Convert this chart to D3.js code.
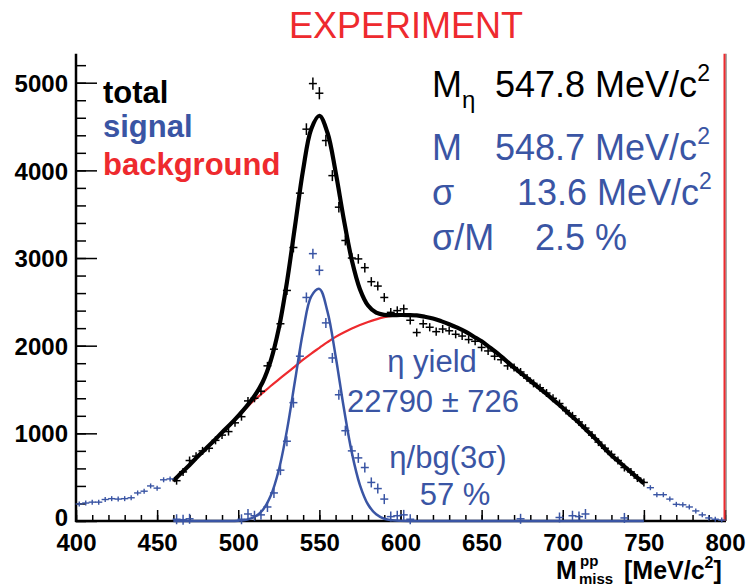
<!DOCTYPE html>
<html><head><meta charset="utf-8">
<script src="https://cdn.jsdelivr.net/npm/d3@7"></script>
<style>
html,body{margin:0;padding:0;background:#fff;}
svg{display:block;}
text{font-family:"Liberation Sans",Arial,Helvetica,sans-serif;}
</style></head>
<body><svg id="c" width="750" height="588"></svg>
<script>
// ---- data ----
const totalBins = [462,466,470,474,478,482,486,490,494,498,502,506,510,514,518,522,526,530,534,538,542,546,550,554,558,562,566,570,574,578,582,586,590,594,598,602,606,610,614,618,622,626,630,634,638,642,646,650,654,658,662,666,670,674,678,682,686,690,694,698,702,706,710,714,718,722,726,730,734,738,742,746,750];
const totalCounts = [460,560,690,740,800,830,920,980,1020,1120,1190,1370,1400,1480,1770,1960,2250,2630,3120,3740,4470,4990,4880,4340,3940,3580,3200,3000,2990,2890,2730,2680,2550,2380,2400,2420,2290,2150,2250,2210,2160,2190,2170,2130,2110,2070,2050,1980,1940,1880,1840,1770,1750,1700,1630,1570,1520,1460,1400,1340,1260,1200,1130,1060,980,900,830,760,690,610,560,490,440];
const leftBins = [402,406,410,414,418,422,426,430,434,438,442,446,450,454,458];
const leftCounts = [194,205,215,215,245,255,250,255,265,320,340,400,375,470,480];
const rightBins = [754,758,762,766,770,774,778,782,786,790,794,798];
const rightCounts = [380,300,300,250,190,185,160,115,70,35,20,10];
const signalBins = [462,466,470,502,506,510,514,518,522,526,530,534,538,542,546,550,554,558,562,566,570,574,578,582,586,590,594,598,602,606,674,698,706,710,714,738];
const signalCounts = [20,15,25,20,80,60,70,160,320,580,910,1350,1880,2550,3050,2860,2260,1860,1440,1030,800,720,610,440,370,250,50,60,70,20,25,40,60,50,80,35];
// fit curves
const fitX = [460,465,470,475,480,485,490,495,500,505,510,515,520,525,530,535,540,545,550,555,560,565,570,575,580,585,590,595,600,605,610,615,620,625,630,635,640,645,650,655,660,665,670,675,680,685,690,695,700,705,710,715,720,725,730,735,740,745,750];
const bgFit = [457,550,640,735,825,915,1010,1100,1195,1290,1380,1460,1540,1615,1690,1765,1840,1910,1975,2040,2100,2150,2195,2235,2270,2300,2325,2340,2348,2349,2345,2330,2310,2280,2245,2205,2160,2105,2050,1980,1910,1830,1750,1675,1600,1525,1450,1370,1290,1205,1120,1030,940,845,750,670,590,510,430];
const sigFit = [0,0,0,0,0,0,0,0,4,15,46,123,287,582,1034,1602,2168,2563,2648,2389,1883,1297,780,410,188,76,26,8,2,0,0,0,0,0,0,0,0,0,0,0,0,0,0,0,0,0,0,0,0,0,0,0,0,0,0,0,0,0,0];
const totalFit = [457,550,640,735,825,915,1010,1100,1199,1305,1426,1583,1827,2197,2724,3367,4008,4473,4623,4429,3983,3447,2975,2645,2458,2376,2351,2348,2350,2349,2345,2330,2310,2280,2245,2205,2160,2105,2050,1980,1910,1830,1750,1675,1600,1525,1450,1370,1290,1205,1120,1030,940,845,750,670,590,510,430];
const xMajor = [400,450,500,550,600,650,700,750,800];
const yMajor = [0,1000,2000,3000,4000,5000];

const BLUE = "#3a55a4", RED = "#ee2a2e";
const svg = d3.select("#c");
const x = d3.scaleLinear().domain([400,800]).range([76,725]);
const y = d3.scaleLinear().domain([0,5000]).range([521,82.7]);
const yTop = 5330;

// axes
const gy = svg.append("g").attr("transform","translate(76,0)");
gy.call(d3.axisLeft(y).tickValues(d3.range(0,5400,200)).tickSizeInner(-10).tickSizeOuter(0).tickFormat(""));
gy.append("g").call(d3.axisLeft(y).tickValues(yMajor).tickSizeInner(-21).tickSizeOuter(0).tickPadding(8).tickFormat(d3.format("d")));
gy.selectAll(".domain").remove();
gy.selectAll("line").attr("stroke","#000").attr("stroke-width",1.5);
gy.selectAll("text").attr("font-size",24).attr("font-weight","bold").attr("fill","#000").attr("dy",d=>d===0?"0.2em":"0.36em");

const gx = svg.append("g").attr("transform","translate(0,521)");
gx.call(d3.axisBottom(x).tickValues(d3.range(400,801,10)).tickSizeInner(-6).tickSizeOuter(0).tickFormat(""));
gx.append("g").call(d3.axisBottom(x).tickValues(xMajor).tickSizeInner(-11).tickSizeOuter(0).tickPadding(7).tickFormat(d3.format("d")));
gx.selectAll(".domain").remove();
gx.selectAll("line").attr("stroke","#000").attr("stroke-width",1.5);
gx.selectAll("text").attr("font-size",24).attr("font-weight","bold").attr("fill","#000").attr("dy","0.95em");

// frame lines
svg.append("line").attr("x1",76).attr("x2",76).attr("y1",y(yTop)).attr("y2",522).attr("stroke","#000").attr("stroke-width",2.5);
svg.append("line").attr("x1",75).attr("x2",726).attr("y1",521).attr("y2",521).attr("stroke","#000").attr("stroke-width",2.5);
svg.append("line").attr("x1",726).attr("x2",726).attr("y1",y(yTop)).attr("y2",521).attr("stroke","#555").attr("stroke-width",1);
svg.append("line").attr("x1",724.5).attr("x2",724.5).attr("y1",y(yTop)).attr("y2",521).attr("stroke",RED).attr("stroke-width",2);

// curves
const line = d3.line().x(d=>x(d[0])).y(d=>y(d[1])).curve(d3.curveCatmullRom.alpha(0.5));
svg.append("path").attr("d",line(fitX.map((v,i)=>[v,bgFit[i]]))).attr("fill","none").attr("stroke",RED).attr("stroke-width",2.2);
svg.append("path").attr("d",line(fitX.map((v,i)=>[v,sigFit[i]]))).attr("fill","none").attr("stroke",BLUE).attr("stroke-width",2.5);
svg.append("path").attr("d",line(fitX.map((v,i)=>[v,totalFit[i]]))).attr("fill","none").attr("stroke","#000").attr("stroke-width",4.2);

// crosses
function crosses(bins, counts, color, sw, hx, minE, fixedErr){
  const g = svg.append("g").attr("stroke",color).attr("stroke-width",sw);
  bins.forEach((b,i)=>{
    const c = counts[i];
    const cx = x(b), cy = y(c);
    const e = fixedErr ? fixedErr : Math.max(minE, y(0)-y(Math.sqrt(c)));
    g.append("line").attr("x1",cx-hx).attr("x2",cx+hx).attr("y1",cy).attr("y2",cy);
    g.append("line").attr("x1",cx).attr("x2",cx).attr("y1",cy-e).attr("y2",cy+e);
  });
}
crosses(totalBins,totalCounts,"#000",1.5,4,4);
crosses(leftBins,leftCounts,BLUE,1.4,3.6,2.5);
crosses(rightBins,rightCounts,BLUE,1.4,3.6,2.5);
crosses(signalBins,signalCounts,BLUE,1.5,4,0,5);

// title
svg.append("text").attr("x",406).attr("y",38).attr("text-anchor","middle").attr("font-size",36).attr("fill",RED).text("EXPERIMENT");

// legend
const leg = [["total","#000",103],["signal",BLUE,137],["background",RED,175]];
leg.forEach(l=>svg.append("text").attr("x",103).attr("y",l[2]).attr("font-size",31).attr("font-weight","bold").attr("fill",l[1]).text(l[0]));

// parameter box
function paramLine(yb, color, label, labelSub, xval, val, sup){
  const t = svg.append("text").attr("y",yb).attr("font-size",36).attr("fill",color);
  t.append("tspan").attr("x",432).text(label);
  if(labelSub){ t.append("tspan").attr("font-size",24).attr("dy",11).text(labelSub); }
  t.append("tspan").attr("x",xval).attr("y",yb).text(val);
  if(sup){ t.append("tspan").attr("font-size",23).attr("dy",-16).text(sup); }
}
paramLine(97,"#000","M","\u03b7",495,"547.8 MeV/c","2");
paramLine(160,BLUE,"M",null,495,"548.7 MeV/c","2");
paramLine(205,BLUE,"\u03c3",null,517,"13.6 MeV/c","2");
paramLine(250,BLUE,"\u03c3/M",null,535,"2.5 %",null);

// annotations
const ann = [["\u03b7 yield",432,372],["22790 \u00b1 726",433,412],["\u03b7/bg(3\u03c3)",448,468],["57 %",455,505]];
ann.forEach(a=>svg.append("text").attr("x",a[1]).attr("y",a[2]).attr("text-anchor","middle").attr("font-size",31).attr("fill",BLUE).text(a[0]));

// x axis title
const xt = svg.append("text").attr("y",579).attr("font-size",25).attr("font-weight","bold").attr("fill","#000");
xt.append("tspan").attr("x",556).text("M");
xt.append("tspan").attr("x",580).attr("y",566).attr("font-size",15).text("pp");
xt.append("tspan").attr("x",579).attr("y",584).attr("font-size",15).text("miss");
xt.append("tspan").attr("x",624).attr("y",579).text("[MeV/c");
xt.append("tspan").attr("font-size",16).attr("dy",-11).text("2");
xt.append("tspan").attr("dy",11).text("]");
</script></body></html>
